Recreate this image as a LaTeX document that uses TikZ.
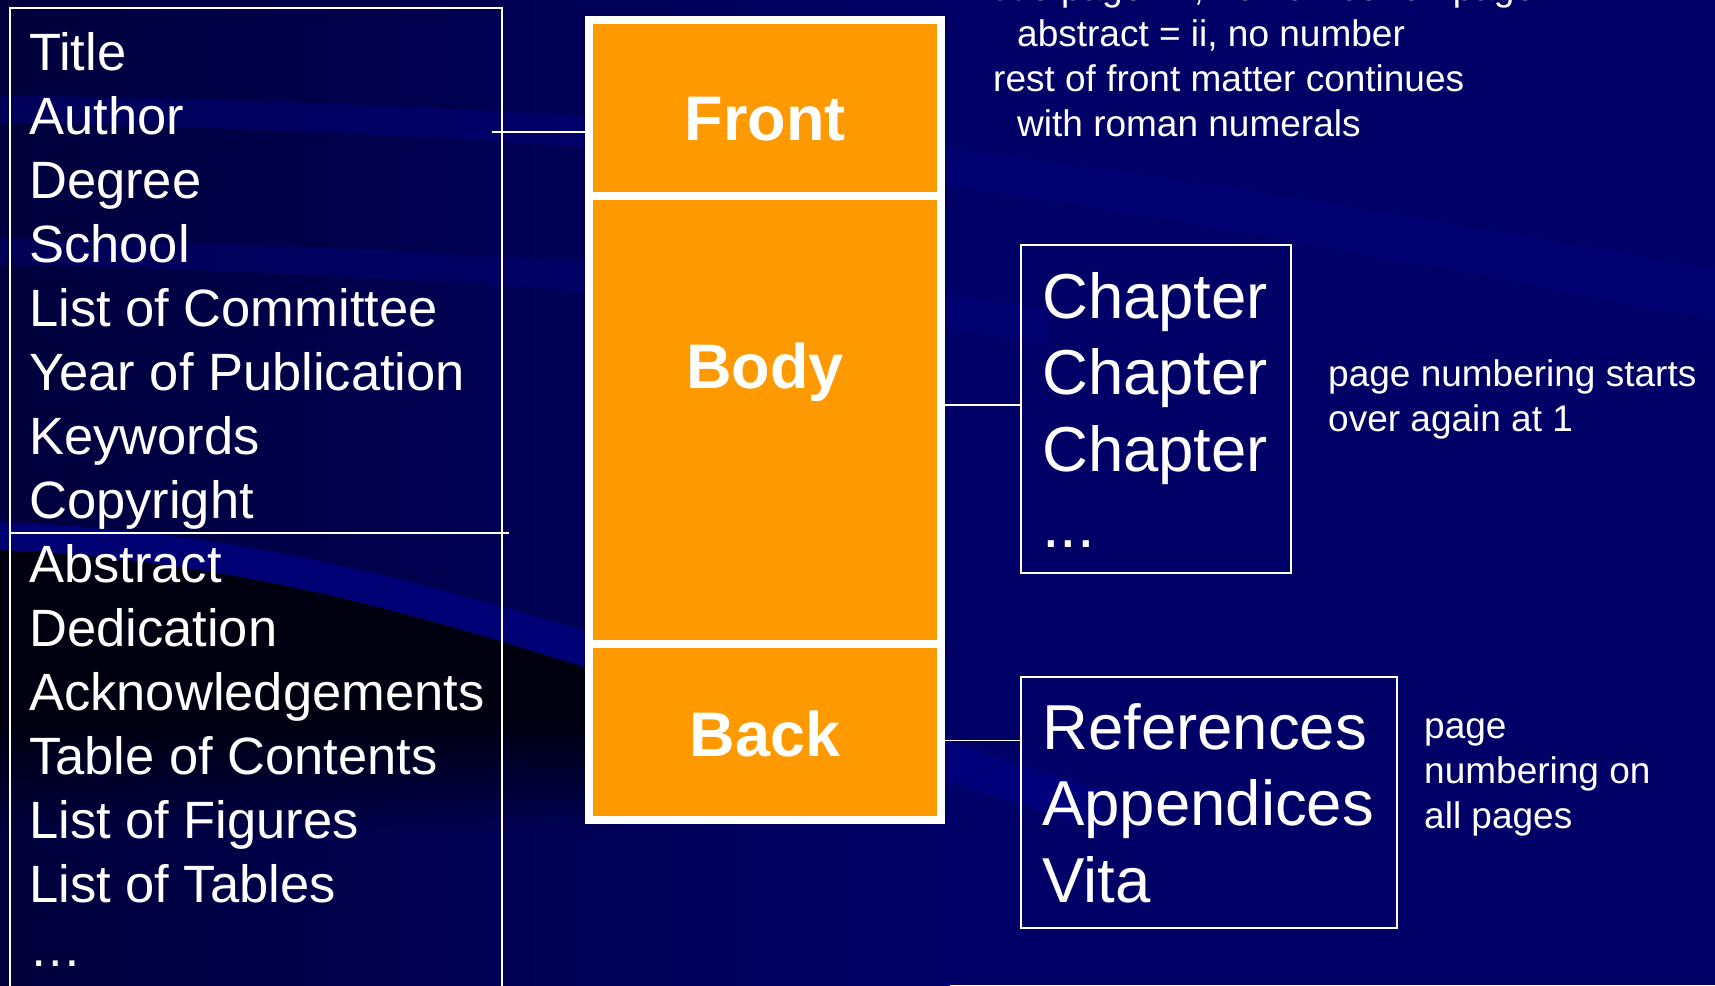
\documentclass[tikz,border=0pt]{standalone}
\usepackage{fontspec}
\setmainfont{Liberation Sans}
\usetikzlibrary{positioning,fadings}
\definecolor{navy}{RGB}{0,0,102}
\definecolor{navydark}{RGB}{0,0,60}
\definecolor{swoosh}{RGB}{0,0,128}
\definecolor{blackish}{RGB}{0,0,16}
\definecolor{partorange}{RGB}{255,153,0}

\begin{document}
\begin{tikzpicture}[x=1pt, y=-1pt,
    listitem/.style={anchor=base west, inner sep=0pt, text=white, font=\fontsize{52.5}{63}\selectfont},
    part/.style={fill=partorange, draw=white, line width=8pt, minimum width=352pt, inner sep=0pt, outer sep=0pt},
    partlabel/.style={anchor=base, inner sep=0pt, text=white, font=\bfseries\fontsize{63}{76}\selectfont},
    groupbox/.style={draw=white, line width=1.6pt, anchor=north west, inner sep=0pt},
    bigitem/.style={anchor=base west, inner sep=0pt, text=white, font=\fontsize{63.5}{76}\selectfont},
    note/.style={anchor=base west, inner sep=0pt, text=white, font=\fontsize{37}{45}\selectfont},
    link/.style={draw=white, line width=1.6pt}]

    \useasboundingbox (0,0) rectangle (1715,985);

    % background with swooshes
    \fill[navy] (0,0) rectangle (1715,985);
    \shade[left color=navydark, right color=navy] (0,0) rectangle (950,985);
    \fill[swoosh, opacity=0.45] (0,95) .. controls (300,100) and (500,110) .. (700,124) .. controls (1000,148) and (1300,195) .. (1715,270) -- (1715,320) .. controls (1300,240) and (1000,185) .. (700,156) .. controls (500,140) and (300,128) .. (0,123) -- cycle; % upper band
    \fill[swoosh, opacity=0.4] (0,238) .. controls (300,244) and (500,255) .. (700,270) .. controls (850,282) and (950,295) .. (1050,310) -- (1050,345) .. controls (950,328) and (850,312) .. (700,300) .. controls (500,285) and (300,270) .. (0,265) -- cycle; % middle band
    \fill[blackish] (0,550) .. controls (250,560) and (450,625) .. (600,672) -- (600,720) -- (0,720) -- cycle; % dark corner
    \fill[blackish, path fading=south] (0,719) rectangle (600,830);
    \fill[swoosh, opacity=0.8] (0,522) .. controls (250,530) and (450,590) .. (600,636) .. controls (750,682) and (900,725) .. (1100,790) -- (1100,830) .. controls (900,765) and (750,720) .. (600,672) .. controls (450,625) and (250,560) .. (0,550) -- cycle; % lower band

    % front matter list
    \node[groupbox, minimum width=492pt, minimum height=1000pt] (frontlist) at (9,7) {};
    \foreach \name [count=\i] in {Title, Author, Degree, School, List of Committee, Year of Publication, Keywords, Copyright, Abstract, Dedication, Acknowledgements, Table of Contents, List of Figures, List of Tables, …} {
        \node[listitem] (item\i) at (29, 6 + 64*\i) {\name};
    }
    \draw[link] (11,533) -- (509,533); % title pages / rest

    % the three parts
    \node[part, minimum height=176pt] (front) at (765,108) {};
    \node[part, minimum height=448pt, below=0pt of front] (body) {};
    \node[part, minimum height=176pt, below=0pt of body] (back) {};
    \node[partlabel] (frontname) at (765,140) {Front};
    \node[partlabel] (bodyname) at (765,388) {Body};
    \node[partlabel] (backname) at (765,756) {Back};

    % body and back contents
    \node[groupbox, minimum width=270pt, minimum height=328pt] (chapters) at (1020,244) {};
    \foreach \i in {1,2,3} {
        \node[bigitem] (chapter\i) at (1042, 241.5 + 76.5*\i) {Chapter};
    }
    \node[bigitem] (moredots) at (1042,547.5) {...};

    \node[groupbox, minimum width=376pt, minimum height=251pt] (backlist) at (1020,676) {};
    \foreach \name [count=\i] in {References, Appendices, Vita} {
        \node[bigitem] (backitem\i) at (1042, 672.5 + 76.5*\i) {\name};
    }

    % connectors
    \coordinate (authorlink) at (492,132);
    \draw[link] (authorlink) -- (authorlink -| front.west);
    \coordinate (bodylink) at ([yshift=4pt]chapters.west);
    \draw[link] (body.east |- bodylink) -- (bodylink);
    \coordinate (backlink) at ([yshift=62pt]backlist.west);
    \draw[link] (back.east |- backlink) -- (backlink);

    % numbering notes
    \foreach \x/\y/\txt in {993/1/title page = i{,} no number on page, 1017/46/abstract = ii{,} no number, 993/91/rest of front matter continues, 1017/136/with roman numerals} {
        \node[note] at (\x,\y) {\txt};
    }
    \foreach \y/\txt in {386/page numbering starts, 431/over again at 1} {
        \node[note] at (1328,\y) {\txt};
    }
    \foreach \y/\txt in {738/page, 783/numbering on, 828/all pages} {
        \node[note] at (1424,\y) {\txt};
    }

\end{tikzpicture}
\end{document}
